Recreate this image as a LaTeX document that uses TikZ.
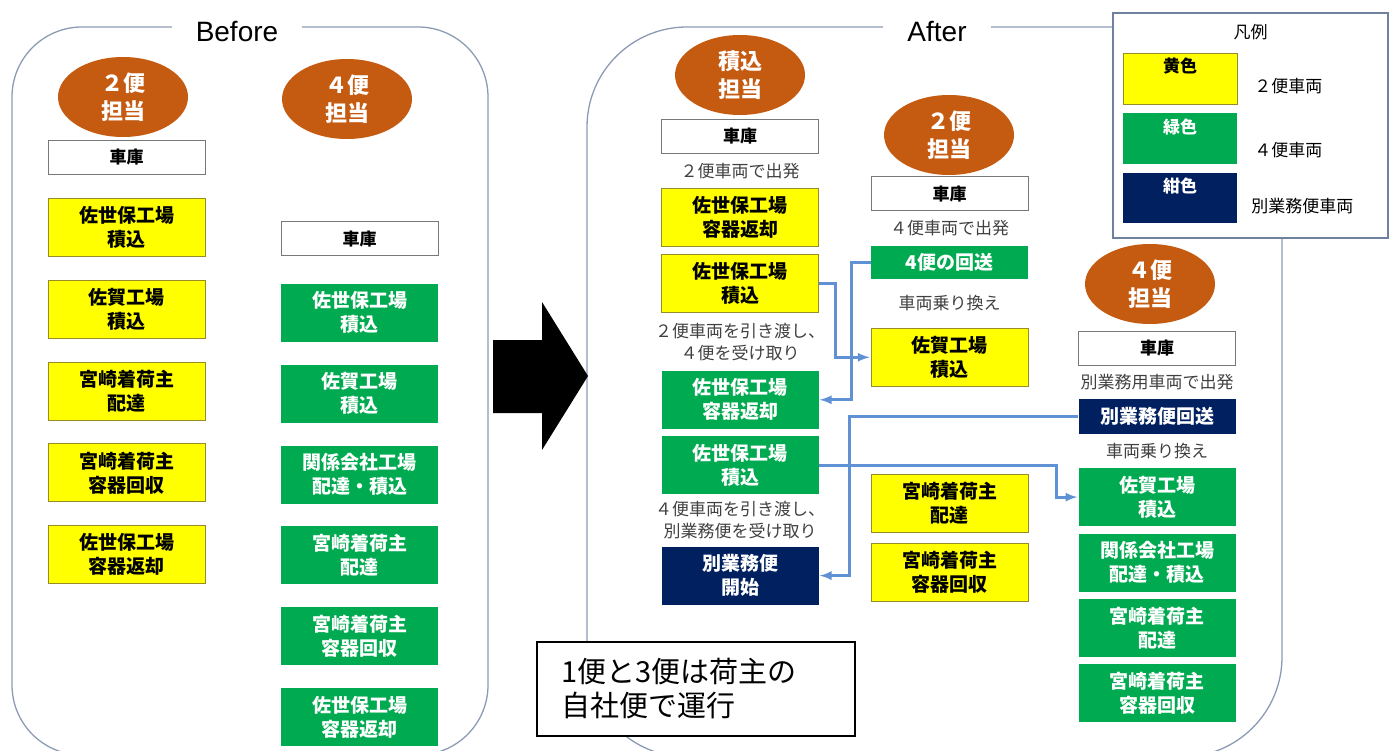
\documentclass[tikz,border=0pt]{standalone}
\usepackage{fontspec}
\newfontfamily\jp{Noto Sans CJK JP}
\newfontfamily\lat{Liberation Sans}
\usetikzlibrary{positioning,shapes.geometric,calc,arrows}
\definecolor{ovalbrown}{RGB}{197,90,17}
\definecolor{binyellow}{RGB}{255,255,0}
\definecolor{ylwedge}{RGB}{150,140,40}
\definecolor{bingreen}{RGB}{0,170,80}
\definecolor{binnavy}{RGB}{0,32,96}
\definecolor{garagegray}{RGB}{120,120,120}
\definecolor{panelgray}{RGB}{140,155,180}
\definecolor{lgedge}{RGB}{110,130,160}
\definecolor{flowblue}{RGB}{95,145,212}
\definecolor{lblgray}{RGB}{64,64,64}
\tikzset{
	panel/.style={draw=panelgray,line width=1.3pt},
	ptitle/.style={fill=white,inner xsep=24pt,inner ysep=4pt,font=\lat\fontsize{28}{32}\selectfont},
	tantou/.style={ellipse,fill=ovalbrown,minimum width=130pt,minimum height=80pt,inner sep=0pt,align=center,text=white,font=\jp\bfseries\fontsize{22}{28}\selectfont},
	garage/.style={draw=garagegray,line width=1pt,fill=white,minimum width=157pt,minimum height=34pt,inner sep=0pt,font=\jp\bfseries\fontsize{17}{20}\selectfont},
	binbox/.style={minimum width=157pt,minimum height=58pt,inner sep=0pt,align=center,font=\jp\bfseries\fontsize{19}{24}\selectfont},
	ybox/.style={binbox,draw=ylwedge,line width=0.8pt,fill=binyellow,text=black},
	gbox/.style={binbox,fill=bingreen,text=white},
	nbox/.style={binbox,fill=binnavy,text=white},
	lbl/.style={inner sep=1pt,align=center,text=lblgray,font=\jp\fontsize{17}{22}\selectfont},
	flow/.style={->,>=latex,shorten >=1pt,draw=flowblue,line width=3pt},
	note/.style={draw=black,line width=1.2pt,fill=white,minimum width=318pt,minimum height=94pt,text width=270pt,align=left,font=\jp\fontsize{29}{34}\selectfont},
	lgframe/.style={draw=lgedge,line width=1.3pt,fill=white,minimum width=275pt,minimum height=225pt},
	swatch/.style={minimum width=114pt,minimum height=51pt,inner sep=0pt},
	swtext/.style={inner sep=1pt,font=\jp\bfseries\fontsize{17}{20}\selectfont},
	lgtext/.style={inner sep=1pt,font=\jp\fontsize{17}{20}\selectfont}
}
\begin{document}
\begin{tikzpicture}[x=1pt,y=-1pt,node distance=23pt]
		\useasboundingbox (0,0) rectangle (1392,751);
		\clip (0,0) rectangle (1392,751);
		% panels
		\draw[panel,rounded corners=70pt] (12,27) rectangle (488,755);
		\node[ptitle](before) at (237,32){Before};
		\draw[panel,rounded corners=100pt] (587,27) rectangle (1282,757);
		\node[ptitle](after) at (937,32){After};
		% Before, 2便
		\node[tantou](bf2head) at (123,97){２便\\担当};
		\node[garage](bf2garage) at (126.5,157.5){車庫};
		\node[ybox,below=of bf2garage](bf2sasebo){佐世保工場\\積込};
		\node[ybox,below=of bf2sasebo](bf2saga){佐賀工場\\積込};
		\node[ybox,below=of bf2saga](bf2haitatsu){宮崎着荷主\\配達};
		\node[ybox,below=of bf2haitatsu](bf2kaishu){宮崎着荷主\\容器回収};
		\node[ybox,below=of bf2kaishu](bf2henkyaku){佐世保工場\\容器返却};
		% Before, 4便
		\node[tantou](bf4head) at (347,99){４便\\担当};
		\node[garage](bf4garage) at (359.5,239){車庫};
		\node[gbox,below=27pt of bf4garage](bf4sasebo){佐世保工場\\積込};
		\node[gbox,below=22.5pt of bf4sasebo](bf4saga){佐賀工場\\積込};
		\node[gbox,below=22.5pt of bf4saga](bf4kankei){関係会社工場\\配達・積込};
		\node[gbox,below=22.5pt of bf4kankei](bf4haitatsu){宮崎着荷主\\配達};
		\node[gbox,below=22.5pt of bf4haitatsu](bf4kaishu){宮崎着荷主\\容器回収};
		\node[gbox,below=22.5pt of bf4kaishu](bf4henkyaku){佐世保工場\\容器返却};
		% big arrow
		\fill (493,340) -- (542,340) -- (542,302) -- (588,376) -- (542,450) -- (542,413) -- (493,413) -- cycle;
		% After, 積込担当
		\node[tantou](afshead) at (740,75){積込\\担当};
		\node[garage](afsgarage) at (740,136.5){車庫};
		\node[ybox,below=34pt of afsgarage](afshen){佐世保工場\\容器返却};
		\node[ybox,below=7pt of afshen](afsseki){佐世保工場\\積込};
		\node[gbox,below=58pt of afsseki](afshen4){佐世保工場\\容器返却};
		\node[gbox,below=7pt of afshen4](afsseki4){佐世保工場\\積込};
		\node[nbox,below=52pt of afsseki4](afsbetsu){別業務便\\開始};
		\node[lbl](afslbl1) at ($(afsgarage.south)!.5!(afshen.north)$){２便車両で出発};
		\node[lbl](afslbl2) at ($(afsseki.south)!.5!(afshen4.north)$){２便車両を引き渡し、\\４便を受け取り};
		\node[lbl](afslbl3) at ($(afsseki4.south)!.5!(afsbetsu.north)$){４便車両を引き渡し、\\別業務便を受け取り};
		% After, 2便担当
		\node[tantou](af2head) at (949,135){２便\\担当};
		\node[garage](af2garage) at (949.5,194){車庫};
		\node[gbox,minimum height=33pt,below=34pt of af2garage](af2kaisou){4便の回送};
		\node[ybox,below=49pt of af2kaisou](af2saga){佐賀工場\\積込};
		\node[ybox,below=87pt of af2saga](af2haitatsu){宮崎着荷主\\配達};
		\node[ybox,below=10pt of af2haitatsu](af2kaishu){宮崎着荷主\\容器回収};
		\node[lbl](af2lbl1) at ($(af2garage.south)!.5!(af2kaisou.north)$){４便車両で出発};
		\node[lbl](af2lbl2) at ($(af2kaisou.south)!.5!(af2saga.north)$){車両乗り換え};
		% After, 4便担当
		\node[tantou](af4head) at (1150,284){４便\\担当};
		\node[garage](af4garage) at (1157,348.5){車庫};
		\node[nbox,minimum height=35pt,below=33pt of af4garage](af4kaisou){別業務便回送};
		\node[gbox,below=33.5pt of af4kaisou](af4saga){佐賀工場\\積込};
		\node[gbox,below=7pt of af4saga](af4kankei){関係会社工場\\配達・積込};
		\node[gbox,below=7pt of af4kankei](af4haitatsu){宮崎着荷主\\配達};
		\node[gbox,below=7pt of af4haitatsu](af4kaishu){宮崎着荷主\\容器回収};
		\node[lbl](af4lbl1) at ($(af4garage.south)!.5!(af4kaisou.north)$){別業務用車両で出発};
		\node[lbl](af4lbl2) at ($(af4kaisou.south)!.5!(af4saga.north)$){車両乗り換え};
		% vehicle hand-over
		\draw[flow] (afsseki.east) -- ++(17,0) |- (af2saga.west);
		\draw[flow] (af2kaisou.west) -- ++(-19,0) |- (afshen4.east);
		\draw[flow] (af4kaisou.west) -- ++(-229,0) |- (afsbetsu.east);
		\draw[flow] (afsseki4.east) -- ++(238,0) |- (af4saga.west);
		% legend
		\node[lgframe](legend) at (1250.5,125.5){};
		\node[lgtext,below=11pt of legend.north](lgtitle){凡例};
		\node[swatch,fill=binyellow,draw=ylwedge](lgy) at (1180,78.5){};
		\node[swatch,fill=bingreen,below=9pt of lgy](lgg){};
		\node[swatch,fill=binnavy,minimum height=50pt,below=8pt of lgg](lgn){};
		\node[swtext,below=4pt of lgy.north](lgytxt){黄色};
		\node[swtext,text=white,below=4pt of lgg.north](lggtxt){緑色};
		\node[swtext,text=white,below=4pt of lgn.north](lgntxt){紺色};
		\node[lgtext,right=16pt of lgy,yshift=-8pt](lgylbl){２便車両};
		\node[lgtext,right=16pt of lgg,yshift=-11pt](lgglbl){４便車両};
		\node[lgtext,right=13pt of lgn,yshift=-8.5pt](lgnlbl){別業務便車両};
		% note
		\node[note](memo) at (696,689){1便と3便は荷主の\\自社便で運行};
	\end{tikzpicture}
\end{document}
